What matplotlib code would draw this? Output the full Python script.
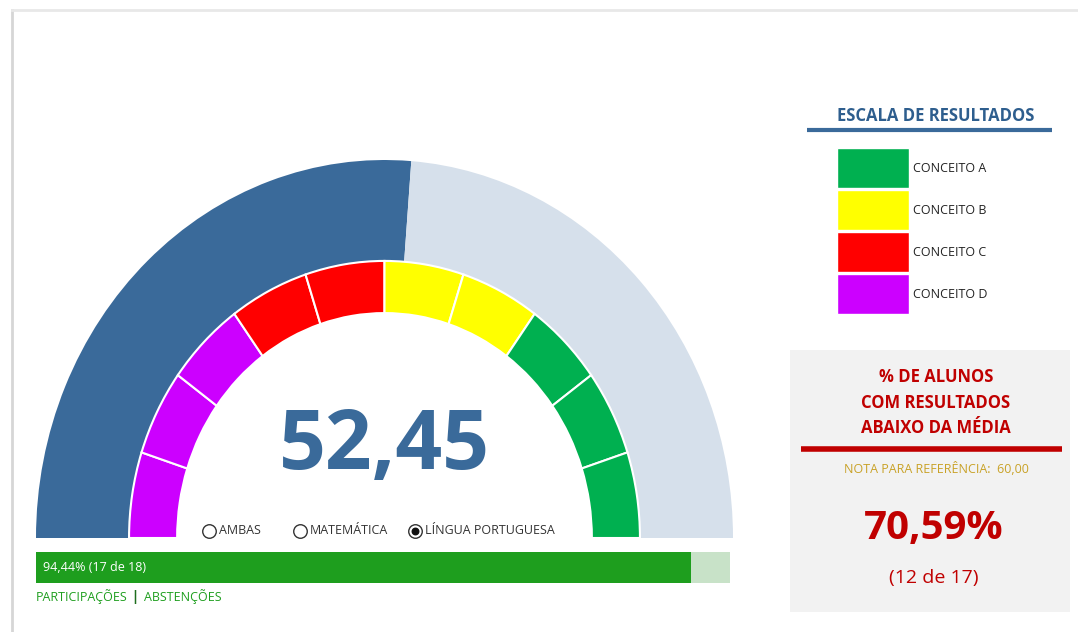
import matplotlib
matplotlib.use('Agg')
import matplotlib.pyplot as plt
from matplotlib.patches import Wedge, Rectangle
import numpy as np

# data
score = 52.45
band_colors = ['#CC00FF', '#CC00FF', '#CC00FF', '#FF0000', '#FF0000',
               '#FFFF00', '#FFFF00', '#00B050', '#00B050', '#00B050']
legend_labels = ['CONCEITO A', 'CONCEITO B', 'CONCEITO C', 'CONCEITO D']
legend_colors = ['#00B050', '#FFFF00', '#FF0000', '#CC00FF']
options = ['AMBAS', 'MATEMÁTICA', 'LÍNGUA PORTUGUESA']
selected = 'LÍNGUA PORTUGUESA'
participants = 17
enrolled = 18
below_avg = 12
evaluated = 17
reference_grade = 60.00

W, H = 1078, 632
BLUE = '#3A6A9A'
LIGHT = '#D6E0EB'
DARKRED = '#C00000'
narrow = ['Open Sans', 'DejaVu Sans']

def fmt(v):
    return f'{v:.2f}'.replace('.', ',')

fig = plt.figure(figsize=(W / 100, H / 100), dpi=100)
fig.patch.set_facecolor('white')

def px_axes(x0, y0, x1, y1):
    return fig.add_axes([x0 / W, 1 - y1 / H, (x1 - x0) / W, (y1 - y0) / H])

# overlay in pixel coords
ov = fig.add_axes([0, 0, 1, 1])
ov.set_xlim(0, W)
ov.set_ylim(H, 0)
ov.axis('off')
ov.plot([12, 12], [10, H], color='#D6D6D6', lw=2, zorder=0)
ov.plot([12, W], [10, 10], color='#E8E8E8', lw=2, zorder=0)

# gauge
g = px_axes(36, 160, 733, 538)
g.set_xlim(-1, 1)
g.set_ylim(0, 1)
g.axis('off')
split = 180 - 180 * score / 100
g.add_patch(Wedge((0, 0), 1.0, split, 180, width=1 - 0.733, facecolor=BLUE, edgecolor='none'))
g.add_patch(Wedge((0, 0), 1.0, 0, split, width=1 - 0.733, facecolor=LIGHT, edgecolor='none'))
step = 180 / len(band_colors)
for i, c in enumerate(band_colors):
    a1 = 180 - i * step
    g.add_patch(Wedge((0, 0), 0.733, a1 - step, a1, width=0.733 - 0.595,
                      facecolor=c, edgecolor='white', lw=1.5))
g.text(0, 0.24, fmt(score), ha='center', va='center', fontsize=59, fontweight='bold',
       color=BLUE, family=narrow)

# radio buttons
opt_x = [202, 293, 408]
for x, lab in zip(opt_x, options):
    ov.scatter([x + 7], [531], s=95, facecolor='white', edgecolor='#333333', lw=1, zorder=5)
    if lab == selected:
        ov.scatter([x + 7], [531], s=22, color='#111111', zorder=6)
    ov.text(x + 17, 531, lab, ha='left', va='center', fontsize=9, color='#333333', family=narrow)

# participation bar
b = px_axes(36, 552, 730, 583)
b.set_xlim(0, 100)
b.set_ylim(-0.5, 0.5)
b.axis('off')
pct = 100 * participants / enrolled
b.barh([0], [100], height=1, color='#C8E2C8')
b.barh([0], [pct], height=1, color='#1E9E1E')
b.text(1, 0, f'{fmt(pct)}% ({participants} de {enrolled})', ha='left', va='center',
       fontsize=9, color='white', family=narrow)
ov.text(36, 597, 'PARTICIPAÇÕES', ha='left', va='center', fontsize=9, color='#1E9E1E', family=narrow)
ov.text(132, 597, '|', ha='left', va='center', fontsize=10, color='#1E6E1E', fontweight='bold')
ov.text(144, 597, 'ABSTENÇÕES', ha='left', va='center', fontsize=9, color='#1E9E1E', family=narrow)

# legend
ov.text(936, 116, 'ESCALA DE RESULTADOS', ha='center', va='center', fontsize=12,
        fontweight='bold', color='#2E5E8E', family=narrow)
ov.plot([807, 1052], [130, 130], color=BLUE, lw=3, solid_capstyle='butt')
for i, (lab, c) in enumerate(zip(legend_labels, legend_colors)):
    y0 = 148 + i * 42
    ov.add_patch(Rectangle((837, y0), 72, 40, facecolor=c, edgecolor='white', lw=1))
    ov.text(913, y0 + 20, lab, ha='left', va='center', fontsize=9, color='#222222', family=narrow)

# below average box
ov.add_patch(Rectangle((790, 350), 280, 262, facecolor='#F2F2F2', edgecolor='none', zorder=0))
for y, line in zip([377, 403, 428], ['% DE ALUNOS', 'COM RESULTADOS', 'ABAIXO DA MÉDIA']):
    ov.text(936, y, line, ha='center', va='center', fontsize=12, fontweight='bold',
            color=DARKRED, family=narrow)
ov.plot([801, 1062], [449, 449], color=DARKRED, lw=4, solid_capstyle='butt')
ov.text(936, 469, f'NOTA PARA REFERÊNCIA:  {fmt(reference_grade)}', ha='center', va='center',
        fontsize=9, color='#C9A227', family=narrow)
ov.text(934, 529, f'{fmt(100 * below_avg / evaluated)}%', ha='center', va='center',
        fontsize=29, fontweight='bold', color=DARKRED, family=narrow)
ov.text(934, 578, f'({below_avg} de {evaluated})', ha='center', va='center',
        fontsize=14, color=DARKRED, family=narrow)

fig.savefig('out.png', dpi=100, facecolor='white')
